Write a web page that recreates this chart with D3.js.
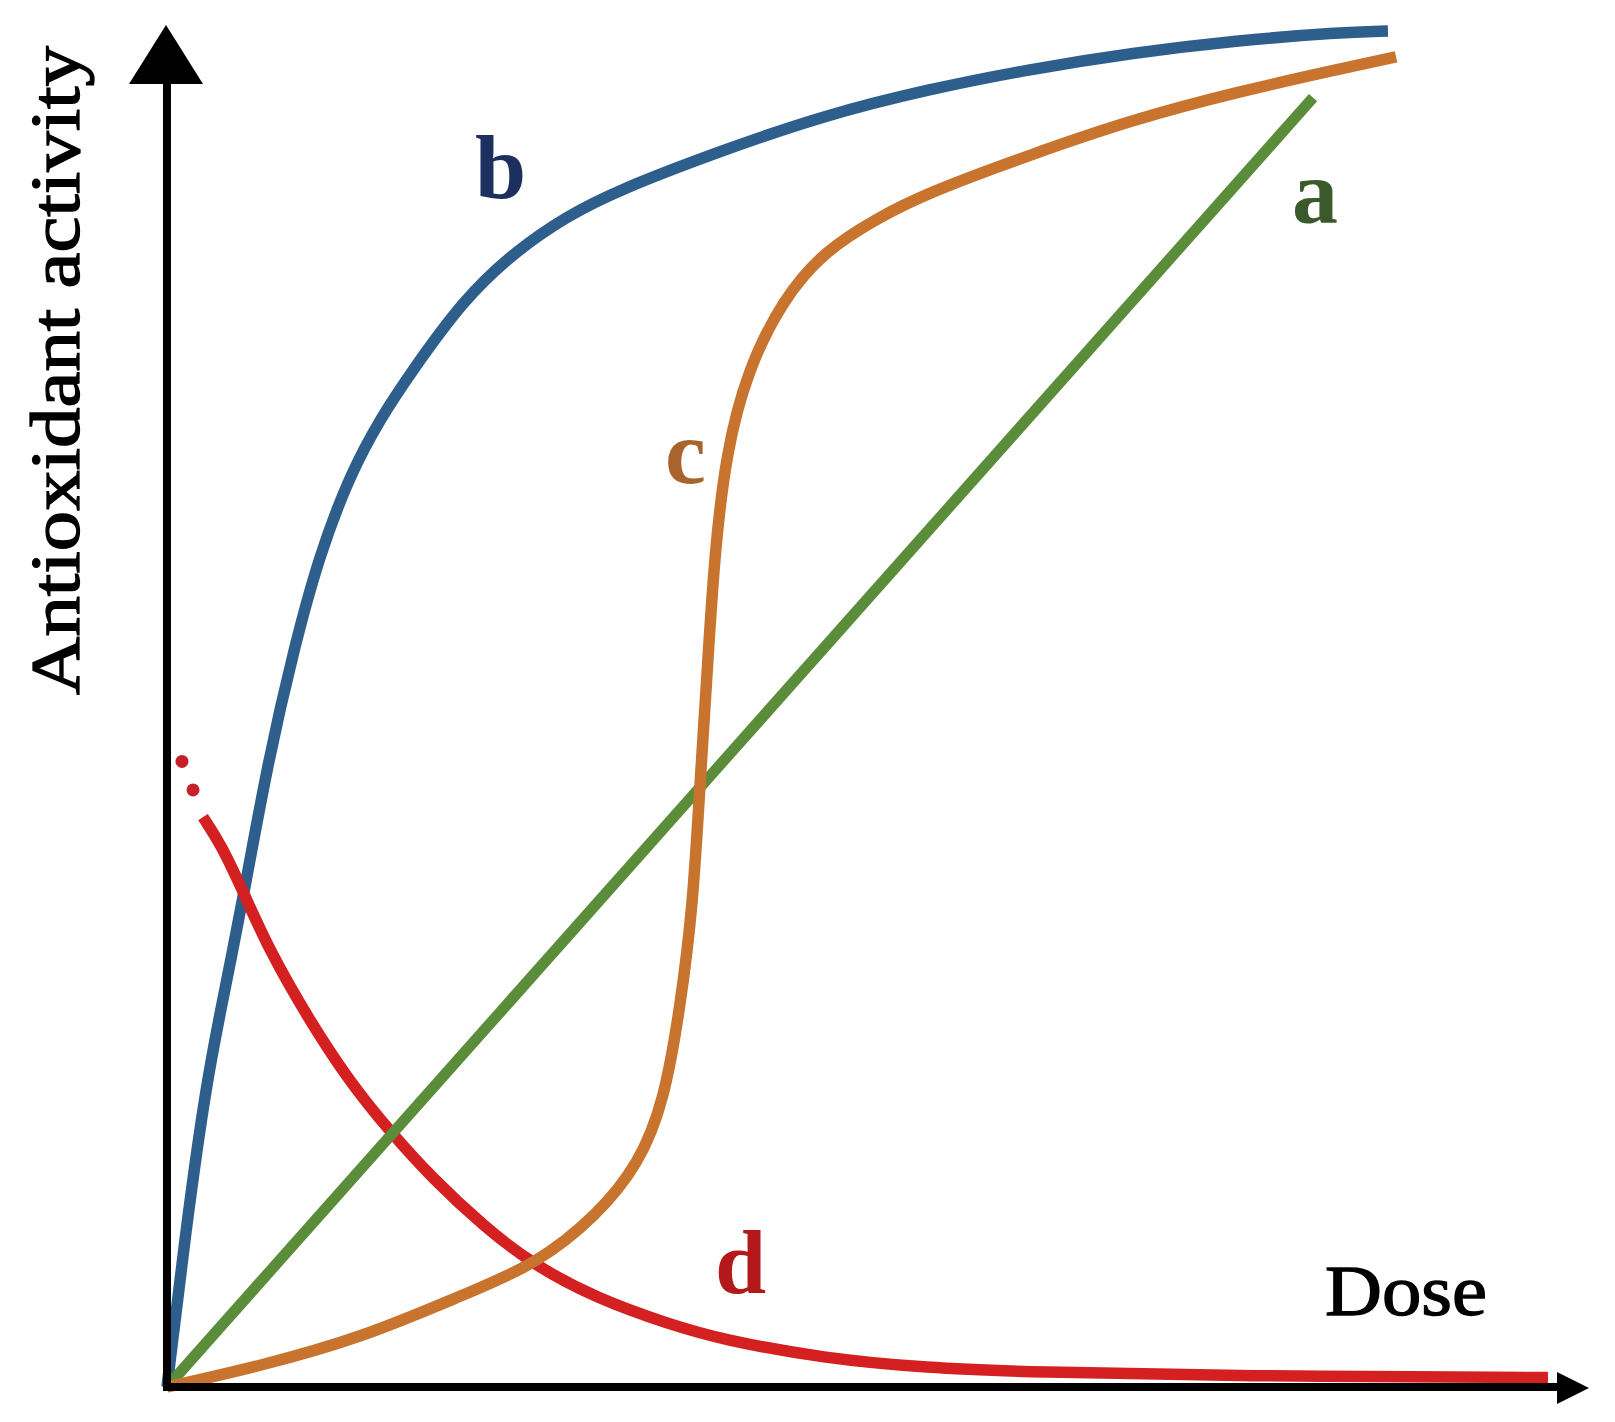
<!DOCTYPE html>
<html>
<head>
<meta charset="utf-8">
<script src="https://cdn.jsdelivr.net/npm/d3@7"></script>
<style>
  html, body { margin: 0; padding: 0; background: #ffffff; }
  svg { display: block; }
</style>
</head>
<body>
<svg id="chart" width="1615" height="1422"></svg>
<script>
// ---- Data (dose vs. antioxidant activity, arbitrary units 0-100) ----
const seriesA = [[0, 0], [81.86, 94.8]];   // linear
const seriesB = [
  [0, 0], [1.29, 11.1], [2.79, 22.4], [4.29, 30.0], [5.5, 36.3], [7.21, 46.0],
  [9.07, 54.3], [10.86, 61.1], [13.07, 67.1], [15.29, 71.3], [17.5, 74.7],
  [21.21, 80.0], [24.86, 83.5], [28.57, 86.1], [32.21, 88.0], [39.57, 90.9],
  [46.93, 93.5], [54.29, 95.4], [61.64, 96.9], [69.0, 98.1], [76.36, 99.0],
  [83.71, 99.6], [87.21, 99.7]
];
const seriesC = [
  [0, 0], [6.5, 1.5], [13.86, 3.6], [21.21, 6.8], [26.36, 9.0], [30.71, 12.6],
  [33.71, 16.4], [35.5, 21.0], [36.64, 27.8], [37.57, 35.4], [38.07, 44.4],
  [38.64, 53.5], [39.1, 61.1], [39.93, 68.7], [41.43, 74.7], [44.0, 80.0],
  [46.93, 83.5], [50.64, 85.9], [54.29, 87.8], [61.64, 90.6], [69.0, 93.2],
  [76.36, 95.2], [83.71, 96.9], [87.79, 97.8]
];
const seriesD = [
  [2.57, 41.9], [3.86, 39.9], [5.5, 36.3], [7.21, 32.3], [10.14, 27.0],
  [13.07, 22.4], [16.0, 18.7], [19.0, 15.3], [22.64, 11.8], [26.14, 9.0],
  [30.71, 6.5], [35.93, 4.6], [39.57, 3.5], [46.93, 2.1], [54.29, 1.4],
  [61.64, 1.1], [76.36, 0.8], [98.64, 0.7]
];
const seriesDDots = [[1.07, 46.0], [1.86, 43.9]];
const curveLabels = ["a", "b", "c", "d"];
const labelPos = [[80.36, 85.6], [22.0, 87.4], [35.57, 66.5], [39.14, 6.9]];
const xTitle = "Dose";
const yTitle = "Antioxidant activity";

// ---- Scales ----
const x = d3.scaleLinear().domain([0, 100]).range([167, 1567]);
const y = d3.scaleLinear().domain([0, 100]).range([1387, 27]);

const svg = d3.select("#chart");
const line = d3.line().x(d => x(d[0])).y(d => y(d[1])).curve(d3.curveBasis);

const colors = { a: "#5b8c3a", b: "#2e5f8c", c: "#c8742e", d: "#d42020" };
const labelColors = { a: "#3b5a2c", b: "#1c2f5e", c: "#a8642c", d: "#b3191b" };
const SW = 11.5;

// ---- Curves ----
svg.append("path").datum(seriesB).attr("d", line)
  .attr("fill", "none").attr("stroke", colors.b).attr("stroke-width", SW);
svg.append("path").datum(seriesD).attr("d", line)
  .attr("fill", "none").attr("stroke", colors.d).attr("stroke-width", SW);
svg.selectAll("circle.dot").data(seriesDDots).enter().append("circle")
  .attr("class", "dot").attr("cx", d => x(d[0])).attr("cy", d => y(d[1]))
  .attr("r", 6.5).attr("fill", "#c8202a");
svg.append("path").datum(seriesA).attr("d", line)
  .attr("fill", "none").attr("stroke", colors.a).attr("stroke-width", SW - 0.5);
svg.append("path").datum(seriesC).attr("d", line)
  .attr("fill", "none").attr("stroke", colors.c).attr("stroke-width", SW);

// ---- Axes (arrows) ----
const ox = x(0), oy = y(0);
svg.append("line").attr("x1", ox).attr("y1", oy + 4).attr("x2", ox).attr("y2", 82)
  .attr("stroke", "#000").attr("stroke-width", 8);
svg.append("line").attr("x1", ox - 4).attr("y1", oy).attr("x2", 1560).attr("y2", oy)
  .attr("stroke", "#000").attr("stroke-width", 8);
svg.append("path").attr("d", `M${ox - 1},25 L${ox - 38},84 L${ox + 36},84 Z`).attr("fill", "#000");
svg.append("path").attr("d", `M1589,${oy + 1} L1557,${oy - 15} L1557,${oy + 17} Z`).attr("fill", "#000");

// ---- Curve labels ----
svg.selectAll("text.lbl").data(curveLabels).enter().append("text")
  .attr("class", "lbl")
  .attr("x", (d, i) => x(labelPos[i][0]))
  .attr("y", (d, i) => y(labelPos[i][1]))
  .attr("font-family", "'Liberation Serif', 'Times New Roman', serif")
  .attr("font-weight", "bold")
  .attr("font-size", 92)
  .attr("fill", d => labelColors[d])
  .text(d => d);

// ---- Axis titles ----
svg.append("text")
  .attr("x", 1325).attr("y", 1315)
  .attr("font-family", "'Liberation Serif', 'Times New Roman', serif")
  .attr("font-size", 71)
  .attr("textLength", 162).attr("lengthAdjust", "spacingAndGlyphs")
  .attr("fill", "#000").attr("stroke", "#000").attr("stroke-width", 1.3)
  .text(xTitle);

svg.append("text")
  .attr("transform", "translate(79,695) rotate(-90)")
  .attr("x", 0).attr("y", 0)
  .attr("font-family", "'Liberation Serif', 'Times New Roman', serif")
  .attr("font-size", 70)
  .attr("textLength", 649).attr("lengthAdjust", "spacingAndGlyphs")
  .attr("fill", "#000").attr("stroke", "#000").attr("stroke-width", 1.3)
  .text(yTitle);
</script>
</body>
</html>
